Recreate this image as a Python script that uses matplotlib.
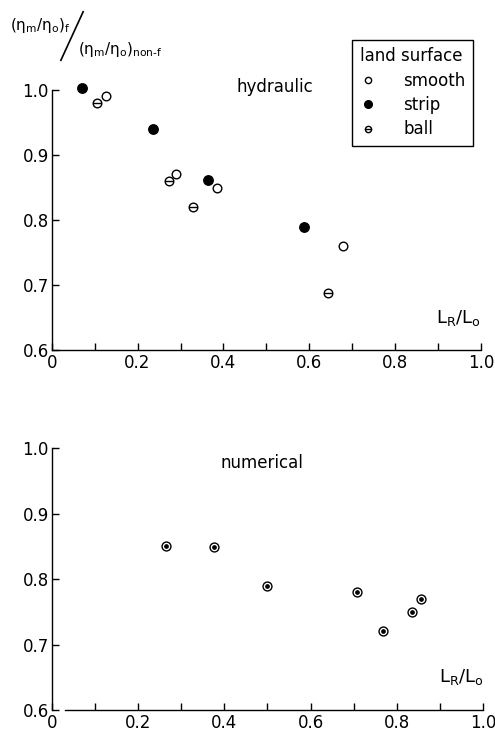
"""Efficiency ratio vs L_R/L_o: hydraulic (top) and numerical (bottom) results."""

import matplotlib

matplotlib.use("Agg")
import matplotlib.pyplot as plt  # noqa: E402
from matplotlib.lines import Line2D  # noqa: E402
from matplotlib.path import Path  # noqa: E402

plt.rcParams["font.family"] = ["DejaVu Sans"]
plt.rcParams["mathtext.default"] = "regular"

# hydraulic experiments, by land surface
smooth_x = [0.126, 0.290, 0.385, 0.678]
smooth_y = [0.991, 0.871, 0.849, 0.760]
strip_x = [0.070, 0.237, 0.365, 0.587]
strip_y = [1.003, 0.940, 0.861, 0.789]
ball_x = [0.106, 0.273, 0.329, 0.644]
ball_y = [0.980, 0.860, 0.820, 0.688]

# numerical results
num_x = [0.264, 0.375, 0.500, 0.707, 0.767, 0.834, 0.856]
num_y = [0.851, 0.849, 0.790, 0.780, 0.721, 0.750, 0.770]

x_ticks = [0, 0.2, 0.4, 0.6, 0.8, 1.0]
x_labels = ["0", "0.2", "0.4", "0.6", "0.8", "1.0"]
y_ticks = [0.6, 0.7, 0.8, 0.9, 1.0]
y_labels = ["0.6", "0.7", "0.8", "0.9", "1.0"]

# circle with a horizontal bar through it (ball roughness)
_circ = Path.unit_circle()
_bar = Path([[-1, 0], [1, 0]], [Path.MOVETO, Path.LINETO])
BALL = Path.make_compound_path(_circ, _bar)

FS = 12


def style_axes(ax, spine_start=0.0):
    ax.set_xlim(0, 1.0)
    ax.set_ylim(0.6, 1.0)
    for s in ("top", "right"):
        ax.spines[s].set_visible(False)
    ax.spines["left"].set_linewidth(1.0)
    ax.spines["bottom"].set_linewidth(1.0)
    ax.spines["bottom"].set_bounds(spine_start, 1.0)
    ax.set_xticks(x_ticks)
    ax.set_xticklabels(x_labels)
    ax.set_xticks([0.1, 0.3, 0.5, 0.7, 0.9], minor=True)
    ax.set_yticks(y_ticks)
    ax.set_yticklabels(y_labels)
    ax.tick_params(which="both", direction="in", length=5, width=1.0,
                   labelsize=FS, pad=3)
    ax.tick_params(axis="y", pad=2)
    ax.text(1.0, 0.65, r"$L_R/L_o$", fontsize=FS + 1, ha="right", va="center")


fig = plt.figure(figsize=(4.95, 7.35), dpi=100)
ax1 = fig.add_axes([0.1044, 0.5238, 0.8675, 0.3538])
ax2 = fig.add_axes([0.1044, 0.034, 0.872, 0.356])

ms = 6.2
ax1.plot(smooth_x, smooth_y, "o", ms=ms, mfc="white", mec="black", mew=1.0, clip_on=False)
ax1.plot(strip_x, strip_y, "o", ms=ms + 0.6, mfc="black", mec="black", clip_on=False)
ax1.plot(ball_x, ball_y, ls="none", marker=BALL, ms=ms, mfc="none", mec="black", mew=1.0,
         clip_on=False)
style_axes(ax1)
ax1.text(0.52, 1.005, "hydraulic", fontsize=FS, ha="center", va="center")

handles = [
    Line2D([], [], ls="none", marker="o", ms=4.5, mfc="white", mec="black", mew=1.0),
    Line2D([], [], ls="none", marker="o", ms=5.5, mfc="black", mec="black"),
    Line2D([], [], ls="none", marker=BALL, ms=4.5, mfc="none", mec="black", mew=1.0),
]
leg = fig.legend(handles, ["smooth", "strip", "ball"], title="land surface",
                 loc="upper right", bbox_to_anchor=(0.9556, 0.9456),
                 fontsize=FS, title_fontsize=FS, fancybox=False, framealpha=1,
                 edgecolor="black", handlelength=1.0, handletextpad=1.6,
                 labelspacing=0.38, borderpad=0.45, borderaxespad=0)
leg.get_frame().set_linewidth(1.0)
leg._legend_box.align = "left"

ax2.plot(num_x, num_y, "o", ms=6.4, mfc="white", mec="black", mew=1.0)
ax2.plot(num_x, num_y, "o", ms=2.4, mfc="black", mec="black")
style_axes(ax2, spine_start=0.03)
ax2.text(0.487, 0.978, "numerical", fontsize=FS, ha="center", va="center")

# y-axis quantity written as a diagonal fraction above the top panel
fig.text(0.02, 0.965, r"$(\eta_m/\eta_o)_f$", fontsize=FS - 1, ha="left", va="center")
fig.text(0.158, 0.932, r"$(\eta_m/\eta_o)_{non\text{-}f}$", fontsize=FS - 1,
         ha="left", va="center")
fig.add_artist(Line2D([0.123, 0.168], [0.918, 0.984], color="black", lw=1.2,
                      transform=fig.transFigure))

fig.savefig("out.png", dpi=100)
